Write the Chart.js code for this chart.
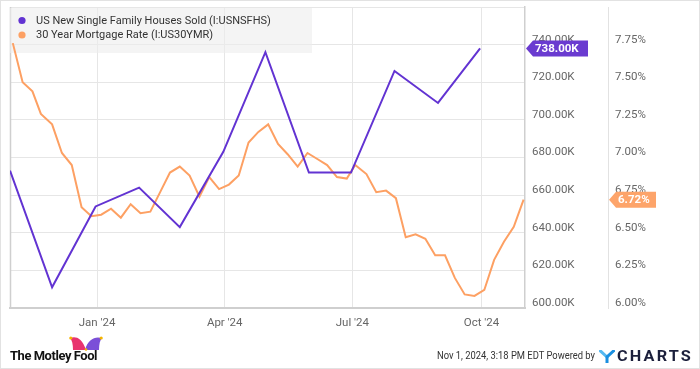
<!DOCTYPE html>
<html><head><meta charset="utf-8">
<script src="https://cdn.jsdelivr.net/npm/chart.js@4"></script>
<style>
html,body{margin:0;padding:0;background:#fff;}
#wrap{position:relative;width:700px;height:369px;overflow:hidden;font-family:Roboto,"Noto Sans",sans-serif;background:#fff;}
#frame{position:absolute;left:0;top:0;width:698px;height:367px;border:1px solid #e2e2e2;pointer-events:none;}
canvas{position:absolute;left:0;top:0;}
.foot{position:absolute;white-space:nowrap;transform-origin:left center;line-height:1;}
</style></head>
<body><div id="wrap">
<canvas id="c" width="700" height="369"></canvas>
<div id="frame"></div>
<svg style="position:absolute;left:69px;top:335px" width="34" height="16" viewBox="0 0 34 16">
  <path d="M4 15 C4 9 3 5 1 3 C6 1 13 2 17 15 Z" fill="#e8336f"/>
  <path d="M16 15 C19 4 26 1 33 3 C31 5 30 9 30 15 Z" fill="#7b4fd8"/>
  <circle cx="1.8" cy="3" r="1.6" fill="#f4b400"/>
  <circle cx="32.2" cy="3" r="1.6" fill="#f4b400"/>
  <circle cx="17" cy="14.5" r="1.3" fill="#f4b400"/>
</svg>
<div class="foot" id="mf" style="left:10px;top:350px;font-weight:700;font-size:12px;color:#111;letter-spacing:-0.4px">The Motley Fool</div>
<div class="foot" id="dt" style="left:437px;top:350px;font-size:11px;color:#333">Nov 1, 2024, 3:18 PM EDT Powered by</div>
<svg style="position:absolute;left:599px;top:350px" width="16" height="13" viewBox="0 0 16 13">
  <path d="M1.5 1 L8 7" stroke="#55b8f0" stroke-width="3" fill="none" stroke-linecap="square"/>
  <path d="M14.5 1 L8 7 L8 12" stroke="#1a8fe0" stroke-width="3" fill="none" stroke-linecap="square"/>
</svg>
<div class="foot" id="yc" style="left:617px;top:349px;font-weight:700;font-size:15px;color:#1b1f3b;letter-spacing:2px">CHARTS</div>
</div>
<script>
// ---------- data ----------
const salesDates = ['2023-10-31','2023-11-30','2023-12-31','2024-01-31','2024-02-29','2024-03-31','2024-04-30','2024-05-31','2024-06-30','2024-07-31','2024-08-31','2024-09-30'];
const salesValues = [673,611,654,664,643,683,736,672,672,726,709,738];
const rateDates = ['2023-11-02','2023-11-09','2023-11-16','2023-11-22','2023-11-30','2023-12-07','2023-12-14','2023-12-21','2023-12-28',
 '2024-01-04','2024-01-11','2024-01-18','2024-01-25','2024-02-01','2024-02-08','2024-02-15','2024-02-22','2024-02-29',
 '2024-03-07','2024-03-14','2024-03-21','2024-03-28','2024-04-04','2024-04-11','2024-04-18','2024-04-25',
 '2024-05-02','2024-05-09','2024-05-16','2024-05-23','2024-05-30','2024-06-06','2024-06-13','2024-06-20','2024-06-27',
 '2024-07-03','2024-07-11','2024-07-18','2024-07-25','2024-08-01','2024-08-08','2024-08-15','2024-08-22','2024-08-29',
 '2024-09-05','2024-09-12','2024-09-19','2024-09-26','2024-10-03','2024-10-10','2024-10-17','2024-10-24','2024-10-31'];
const rateValues = [7.76,7.50,7.44,7.29,7.22,7.03,6.95,6.67,6.61,
 6.62,6.66,6.60,6.69,6.63,6.64,6.77,6.90,6.94,
 6.88,6.74,6.87,6.79,6.82,6.88,7.10,7.17,
 7.22,7.09,7.02,6.94,7.03,6.99,6.95,6.87,6.86,
 6.95,6.89,6.77,6.78,6.73,6.47,6.49,6.46,6.35,
 6.35,6.20,6.09,6.08,6.12,6.32,6.44,6.54,6.72];
const xTickDates = ['2024-01-01','2024-04-01','2024-07-01','2024-10-01'];
const xTickLabels = ["Jan '24","Apr '24","Jul '24","Oct '24"];
const salesTicks = [600,620,640,660,680,700,720,740];
const rateTicks = [6.00,6.25,6.50,6.75,7.00,7.25,7.50,7.75];
const xStart = '2023-10-31', xEnd = '2024-11-01';
const salesMax = 760, rateMax = 8.0;
const seriesNames = ['US New Single Family Houses Sold (I:USNSFHS)','30 Year Mortgage Rate (I:US30YMR)'];

// ---------- helpers ----------
const base = Date.UTC(2024,0,1);
function day(s){const [y,m,d]=s.split('-').map(Number);return (Date.UTC(y,m-1,d)-base)/86400000;}
const PURPLE='#6233d2', ORANGE='#fda063';
const FONT='Roboto, "Noto Sans", sans-serif';

const salesData = salesDates.map((d,i)=>({x:day(d),y:salesValues[i]}));
const rateData = rateDates.map((d,i)=>({x:day(d),y:rateValues[i]}));

function flag(ctx,tipX,y,w,color,text){
  const h=16;
  ctx.save();
  ctx.fillStyle=color;
  ctx.beginPath();
  ctx.moveTo(tipX,y);ctx.lineTo(tipX+7,y-h/2);ctx.lineTo(tipX+w,y-h/2);
  ctx.lineTo(tipX+w,y+h/2);ctx.lineTo(tipX+7,y+h/2);ctx.closePath();ctx.fill();
  ctx.fillStyle='#fff';ctx.font='bold 11.5px '+FONT;ctx.textAlign='left';ctx.textBaseline='middle';
  ctx.fillText(text,tipX+9,y+0.5);
  ctx.restore();
}

const deco = {
  id:'deco',
  beforeDatasetsDraw(chart){
    const ctx=chart.ctx, a=chart.chartArea;
    ctx.save();
    ctx.strokeStyle='#cfcfcf';ctx.lineWidth=1.5;
    ctx.beginPath();ctx.moveTo(a.left+0.5,a.top);ctx.lineTo(a.left+0.5,a.bottom);ctx.stroke();
    ctx.fillStyle='rgba(236,236,236,0.6)';
    ctx.fillRect(a.left,a.top+1,302,45);
    const cols=[PURPLE,ORANGE];
    ctx.font='11px '+FONT;ctx.textBaseline='middle';ctx.textAlign='left';
    seriesNames.forEach((n,i)=>{
      const yy=a.top+13.5+i*14.5;
      ctx.fillStyle=cols[i];ctx.beginPath();ctx.arc(a.left+12,yy,3.6,0,Math.PI*2);ctx.fill();
      ctx.fillStyle='#333';ctx.fillText(n,a.left+26,yy+0.5);
    });
    ctx.restore();
  },
  afterDraw(chart){
    const ctx=chart.ctx, ys=chart.scales.y, y1=chart.scales.y1;
    const ls=salesValues[salesValues.length-1], lr=rateValues[rateValues.length-1];
    flag(ctx,ys.left+1,ys.getPixelForValue(ls),62,'#6a3bd0',ls.toFixed(2)+'K');
    flag(ctx,y1.left+1,y1.getPixelForValue(lr),47,'#fda46a',lr.toFixed(2)+'%');
  }
};

function noPad(ax){ax.paddingTop=0;ax.paddingBottom=0;}

new Chart(document.getElementById('c'),{
  type:'line',
  data:{datasets:[
    {label:seriesNames[0],data:salesData,yAxisID:'y',borderColor:PURPLE,borderWidth:2,pointRadius:0,tension:0},
    {label:seriesNames[1],data:rateData,yAxisID:'y1',borderColor:ORANGE,borderWidth:2,pointRadius:0,tension:0}
  ]},
  options:{
    responsive:false,animation:false,devicePixelRatio:1,
    layout:{padding:{left:10,top:7,right:0,bottom:31}},
    plugins:{legend:{display:false},tooltip:{enabled:false}},
    scales:{
      x:{type:'linear',min:day(xStart),max:day(xEnd),
        afterBuildTicks(ax){ax.ticks=xTickDates.map(d=>({value:day(d)}));},
        afterFit(ax){ax.height=30;ax.paddingLeft=0;ax.paddingRight=0;},
        grid:{color:'#e6e6e6',drawTicks:false},
        border:{display:true,color:'#cfcfcf',width:2},
        ticks:{padding:8,color:'#666',font:{family:FONT,size:11.5},maxRotation:0,autoSkip:false,
          callback(v){const i=xTickDates.findIndex(d=>day(d)===v);return i>=0?xTickLabels[i]:'';}}
      },
      y:{position:'right',weight:0,min:salesTicks[0],max:salesMax,
        afterBuildTicks(ax){ax.ticks=[...salesTicks,salesMax].map(v=>({value:v}));},
        afterFit(ax){ax.width=83;noPad(ax);},
        grid:{color:'#e6e6e6',drawTicks:false},
        border:{display:true,color:'#cfcfcf',width:1.5},
        ticks:{padding:7,labelOffset:-5,color:'#666',font:{family:FONT,size:11.5},
          callback(v){return salesTicks.includes(v)?v.toFixed(2)+'K':'';}}
      },
      y1:{position:'right',weight:1,min:rateTicks[0],max:rateMax,
        afterBuildTicks(ax){ax.ticks=[...rateTicks,rateMax].map(v=>({value:v}));},
        afterFit(ax){ax.width=92;noPad(ax);},
        grid:{display:false,drawTicks:false},
        border:{display:true,color:'#e2e2e2',width:1},
        ticks:{padding:7,labelOffset:-5,color:'#666',font:{family:FONT,size:11.5},
          callback(v){return rateTicks.some(t=>Math.abs(t-v)<1e-9)?v.toFixed(2)+'%':'';}}
      }
    }
  },
  plugins:[deco]
});

function fit(id,w){const el=document.getElementById(id);const r=el.getBoundingClientRect().width;if(r>0)el.style.transform='scaleX('+(w/r)+')';}
fit('dt',158);fit('mf',87);fit('yc',76);
</script>
</body></html>
